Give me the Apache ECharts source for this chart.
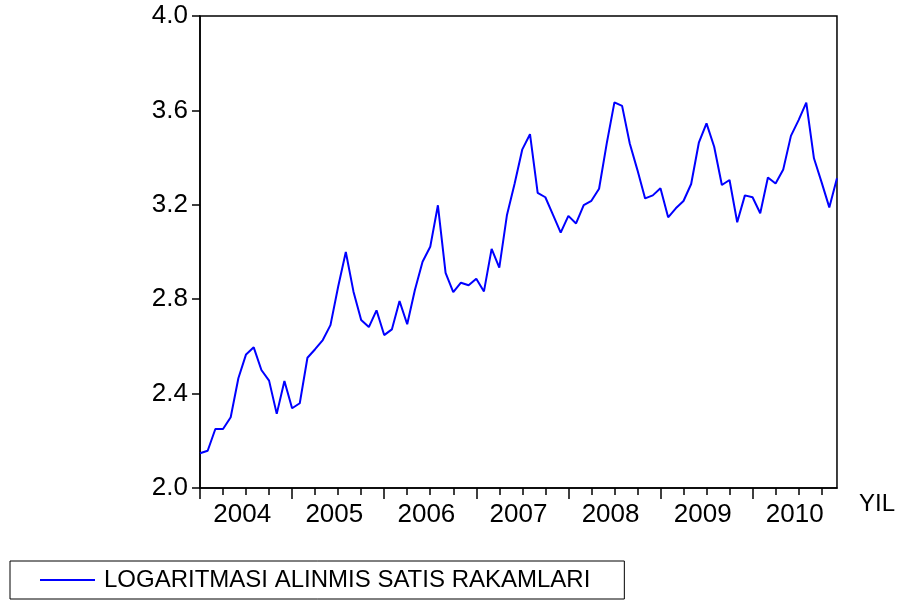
<!DOCTYPE html>
<html>
<head>
<meta charset="utf-8">
<script src="https://cdn.jsdelivr.net/npm/echarts@6/dist/echarts.min.js"></script>
<style>html,body{margin:0;padding:0;background:#fff}#c{width:898px;height:603px}</style>
</head>
<body>
<div id="c"></div>
<script>
var years = ['2004','2005','2006','2007','2008','2009','2010'];
var yTicks = [2.0, 2.4, 2.8, 3.2, 3.6, 4.0];
var seriesName = 'LOGARITMASI ALINMIS SATIS RAKAMLARI';
var values = [
  2.147, 2.158, 2.250, 2.250, 2.300, 2.465, 2.566, 2.596, 2.500, 2.455, 2.314, 2.453,
  2.338, 2.359, 2.552, 2.588, 2.627, 2.690, 2.853, 3.000, 2.832, 2.712, 2.682, 2.753,
  2.648, 2.672, 2.792, 2.694, 2.839, 2.959, 3.022, 3.198, 2.912, 2.830, 2.870, 2.859,
  2.887, 2.833, 3.013, 2.934, 3.157, 3.290, 3.435, 3.499, 3.251, 3.232, 3.157, 3.082,
  3.153, 3.121, 3.199, 3.217, 3.268, 3.460, 3.634, 3.619, 3.460, 3.347, 3.227, 3.240,
  3.270, 3.147, 3.185, 3.216, 3.288, 3.463, 3.545, 3.446, 3.284, 3.305, 3.126, 3.240,
  3.232, 3.164, 3.316, 3.290, 3.350, 3.492, 3.559, 3.633, 3.397, 3.295, 3.189, 3.312
];

var months = [];
years.forEach(function (y) {
  for (var m = 1; m <= 12; m++) months.push(y + 'M' + (m < 10 ? '0' + m : m));
});
// half-month positions used only for centering the year labels
var halfSteps = [];
for (var j = 0; j < months.length * 2 - 1; j++) {
  var idx = Math.floor(j / 24);
  halfSteps.push(years[idx] || '');
}

var font = 'Liberation Sans, Arial, sans-serif';
var chart = echarts.init(document.getElementById('c'));
chart.setOption({
  animation: false,
  backgroundColor: '#fff',
  grid: { left: 200, right: 59, top: 16, bottom: 115, show: true, borderColor: '#000', borderWidth: 1.5 },
  legend: {
    left: 10, top: 561,
    padding: [7, 34, 7, 30],
    borderColor: '#000', borderWidth: 1,
    itemWidth: 55, itemHeight: 2,
    icon: 'rect',
    textStyle: { fontFamily: font, fontSize: 24, color: '#000', padding: [0, 0, 0, 4] },
    data: [seriesName]
  },
  xAxis: [
    {
      type: 'category', data: months, boundaryGap: false, position: 'bottom',
      axisLine: { show: true, lineStyle: { color: '#000', width: 1.5 } },
      axisTick: { show: true, length: 7, lineStyle: { color: '#000', width: 1.5 },
        interval: function (i) { return i % 3 === 0; } },
      axisLabel: { show: false },
      splitLine: { show: false },
      name: 'YIL', nameLocation: 'end', nameGap: 22,
      nameTextStyle: { fontFamily: font, fontSize: 24, color: '#000', verticalAlign: 'top', padding: [4, 0, 0, 0] }
    },
    {
      type: 'category', data: months, boundaryGap: false, position: 'bottom',
      axisLine: { show: false },
      axisTick: { show: true, length: 11, lineStyle: { color: '#000', width: 1.5 },
        interval: function (i) { return i % 12 === 0; } },
      axisLabel: { show: false },
      splitLine: { show: false }
    },
    {
      type: 'category', data: halfSteps, boundaryGap: false, position: 'bottom',
      axisLine: { show: false },
      axisTick: { show: false },
      axisLabel: { show: true, fontFamily: font, fontSize: 26, color: '#000', margin: 14,
        interval: function (j) { return (j - 11) % 24 === 0; } },
      splitLine: { show: false }
    }
  ],
  yAxis: {
    type: 'value', min: yTicks[0], max: yTicks[yTicks.length - 1], interval: 0.4,
    axisLine: { show: true, lineStyle: { color: '#000', width: 1.5 } },
    axisTick: { show: true, length: 8, lineStyle: { color: '#000', width: 1.5 } },
    axisLabel: { fontFamily: font, fontSize: 26, color: '#000', margin: 12,
      formatter: function (v) { return v.toFixed(1); } },
    splitLine: { show: false }
  },
  series: [{
    name: seriesName,
    type: 'line',
    xAxisIndex: 0,
    data: values,
    showSymbol: false,
    symbol: 'none',
    lineStyle: { color: '#0000FF', width: 2 },
    itemStyle: { color: '#0000FF' }
  }]
});
</script>
</body>
</html>
